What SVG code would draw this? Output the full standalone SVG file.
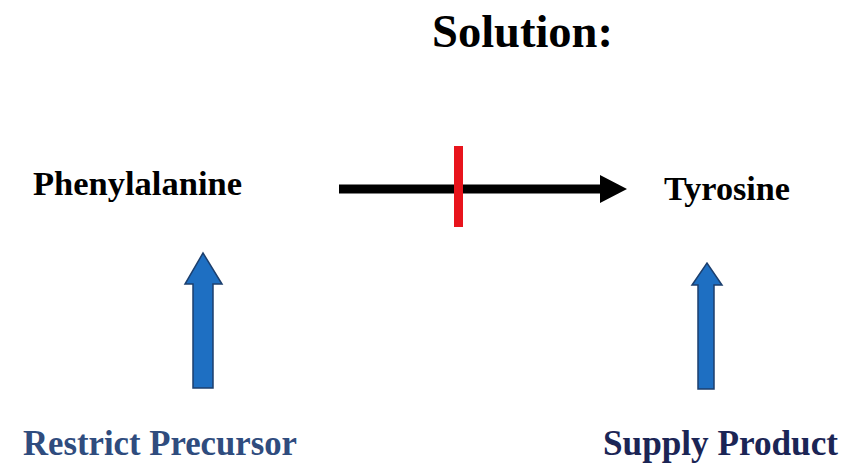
<svg xmlns="http://www.w3.org/2000/svg" width="848" height="466" viewBox="0 0 848 466">
<style>
.t{font-family:"Liberation Serif","Times New Roman",serif;font-weight:bold;fill:#000}
.blue{fill:#1e6fc2;stroke:#1c3f6e;stroke-width:1.5;stroke-linejoin:miter}
</style>
<rect width="848" height="466" fill="#fff"/>
<g id="title"><text class="t" x="432" y="47" font-size="47" textLength="181" lengthAdjust="spacingAndGlyphs">Solution:</text></g>
<g id="phenylalanine"><text class="t" x="33" y="195" font-size="34" textLength="209" lengthAdjust="spacingAndGlyphs">Phenylalanine</text></g>
<g id="tyrosine"><text class="t" x="664" y="200" font-size="34" textLength="126" lengthAdjust="spacingAndGlyphs">Tyrosine</text></g>
<g id="restrict"><text class="t" x="23" y="455" font-size="36" textLength="274" lengthAdjust="spacingAndGlyphs" style="fill:#2f4c7e">Restrict Precursor</text></g>
<g id="supply"><text class="t" x="603" y="455" font-size="36" textLength="235" lengthAdjust="spacingAndGlyphs" style="fill:#1b2555">Supply Product</text></g>
<g id="connectors">
<path d="M339 184.5 H600 V175 L627 189 L600 203 V193.5 H339 Z" fill="#000"/>
<rect x="454" y="146" width="9" height="81" fill="#e8141c"/>
<path class="blue" d="M193 388 V284 H185 L203 253 L222 284 H213 V388 Z"/>
<path class="blue" d="M698 389 V285 H692 L707 263 L722 285 H714 V389 Z"/>
</g>
</svg>
